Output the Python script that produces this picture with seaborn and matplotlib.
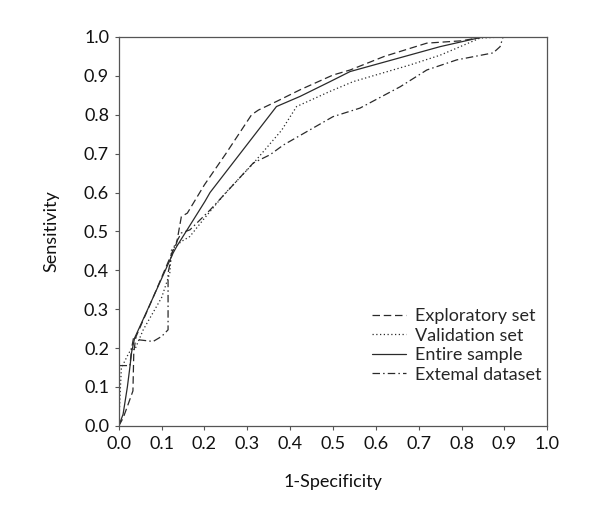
import numpy as np
import pandas as pd
import matplotlib
matplotlib.use("Agg")
import matplotlib.pyplot as plt
import seaborn as sns

# ROC curves (1-specificity, sensitivity)
explor_x = [0.0, 0.01, 0.02, 0.033, 0.035, 0.04, 0.08, 0.127, 0.135, 0.146, 0.16, 0.2, 0.25, 0.31, 0.326, 0.368, 0.423, 0.5, 0.54, 0.62, 0.719, 0.8, 0.851, 1.0]
explor_y = [0.0, 0.02, 0.05, 0.09, 0.19, 0.229, 0.33, 0.452, 0.47, 0.538, 0.547, 0.62, 0.70, 0.80, 0.812, 0.834, 0.864, 0.902, 0.915, 0.95, 0.984, 0.99, 1.0, 1.0]

valid_x = [0.0, 0.003, 0.006, 0.02, 0.03, 0.037, 0.057, 0.1, 0.119, 0.123, 0.146, 0.166, 0.197, 0.25, 0.314, 0.38, 0.415, 0.423, 0.493, 0.547, 0.68, 0.75, 0.797, 0.843, 0.9, 1.0]
valid_y = [0.0, 0.08, 0.149, 0.18, 0.2, 0.195, 0.247, 0.33, 0.393, 0.452, 0.474, 0.487, 0.53, 0.6, 0.675, 0.76, 0.821, 0.825, 0.86, 0.885, 0.928, 0.953, 0.975, 0.997, 1.0, 1.0]

entire_x = [0.0, 0.01, 0.02, 0.026, 0.03, 0.037, 0.08, 0.127, 0.135, 0.201, 0.213, 0.368, 0.423, 0.493, 0.54, 0.75, 0.85, 1.0]
entire_y = [0.0, 0.03, 0.1, 0.152, 0.19, 0.226, 0.33, 0.445, 0.461, 0.577, 0.6, 0.821, 0.847, 0.885, 0.911, 0.975, 1.0, 1.0]

extern_x = [0.0, 0.0, 0.026, 0.03, 0.035, 0.049, 0.08, 0.1, 0.115, 0.115, 0.127, 0.146, 0.166, 0.213, 0.314, 0.353, 0.384, 0.446, 0.5, 0.563, 0.657, 0.719, 0.789, 0.874, 0.89, 0.897, 0.937, 1.0]
extern_y = [0.0, 0.155, 0.155, 0.2, 0.23, 0.221, 0.217, 0.23, 0.247, 0.393, 0.457, 0.496, 0.504, 0.555, 0.676, 0.697, 0.722, 0.761, 0.795, 0.817, 0.872, 0.915, 0.941, 0.959, 0.975, 1.0, 1.0, 1.0]

labels = ["Exploratory set", "Validation set", "Entire sample", "Extemal dataset"]
series = [(explor_x, explor_y), (valid_x, valid_y), (entire_x, entire_y), (extern_x, extern_y)]
dash_styles = [(0, (6, 3)), (0, (1, 2)), "-", (0, (6, 2.5, 1.2, 2.5))]
ticks = [round(i * 0.1, 1) for i in range(11)]

sns.set_style("ticks")
plt.rcParams["font.family"] = ["Lato", "DejaVu Sans"]

fig = plt.figure(figsize=(6, 5.2), dpi=100)
ax = fig.add_axes([0.198, 0.181, 0.714, 0.748])

for (xs, ys), lab, ls in zip(series, labels, dash_styles):
    df = pd.DataFrame({"x": xs, "y": ys})
    sns.lineplot(data=df, x="x", y="y", ax=ax, sort=False, estimator=None,
                 color="#2a2a2a", linewidth=0.9, linestyle=ls, label=lab)

ax.set_xlim(0, 1)
ax.set_ylim(0, 1)
ax.set_xticks(ticks)
ax.set_yticks(ticks)
ax.set_xticklabels([f"{t:.1f}" for t in ticks], fontsize=13)
ax.set_yticklabels([f"{t:.1f}" for t in ticks], fontsize=13)
ax.tick_params(direction="out", length=3, width=0.8, color="#555555", pad=4,
               labelcolor="#111111")
for sp in ax.spines.values():
    sp.set_color("#555555")
    sp.set_linewidth(0.9)
ax.set_xlabel("1-Specificity", fontsize=13, labelpad=16, color="#111111")
ax.set_ylabel("Sensitivity", fontsize=13, labelpad=18, color="#111111")

ax.legend(loc="upper left", bbox_to_anchor=(0.553, 0.345), frameon=False,
          fontsize=13, handlelength=1.9, labelspacing=0.2, handletextpad=0.5)

fig.savefig("out.png", dpi=100)
